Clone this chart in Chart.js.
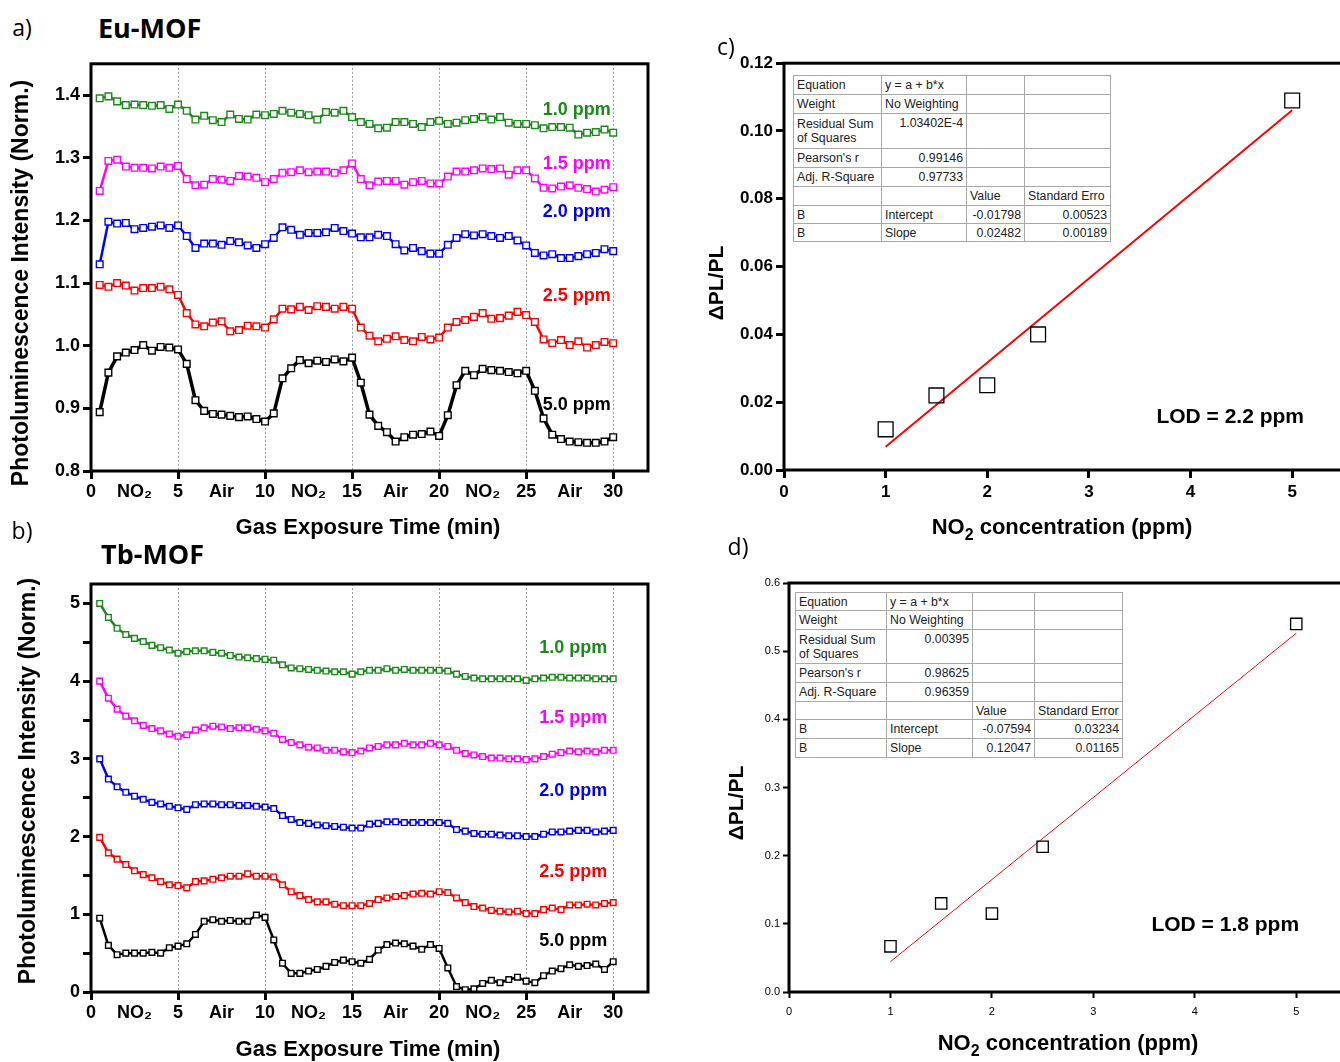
<!doctype html>
<html>
<head>
<meta charset="utf-8">
<script src="https://cdn.jsdelivr.net/npm/chart.js@4/dist/chart.umd.min.js"></script>
<style>
  html, body { margin: 0; padding: 0; background: #fff; overflow: hidden; }
  body { width: 1340px; height: 1062px; position: relative; font-family: "Liberation Sans", Arial, sans-serif; }
  canvas { position: absolute; }
  .t { position: absolute; white-space: nowrap; color: #000; transform: translate(-50%, -50%); }
  .lab { font-family: "Open Sans", sans-serif; font-size: 23px; }
  .mof { font-family: "Open Sans", sans-serif; font-weight: 700; font-size: 27px; transform: translate(0, -50%); }
  .ax { font-weight: 700; font-size: 22px; }
  .ay { font-weight: 700; font-size: 23px; transform: translate(-50%, -50%) rotate(-90deg); }
  .ay2 { font-weight: 700; font-size: 21px; transform: translate(-50%, -50%) rotate(-90deg); }
  .ax sub { font-size: 16px; vertical-align: -6px; line-height: 0; }
  table.fit { position: absolute; border-collapse: collapse; background: #fff; font-size: 12.3px; color: #222; table-layout: fixed; border: 1px solid #555; }
  table.fit td { border: 1px solid #a8a8a8; padding: 0 3px; vertical-align: middle; overflow: hidden; white-space: nowrap; line-height: 14px; }
  table.fit td.r { text-align: right; }
  table.fit td.top { vertical-align: top; padding-top: 2px; }
</style>
</head>
<body>
  <canvas id="ca" width="660" height="500" style="left:0;top:50px"></canvas>
  <canvas id="cb" width="660" height="492" style="left:0;top:570px"></canvas>
  <canvas id="cc" width="680" height="500" style="left:680px;top:50px"></canvas>
  <canvas id="cd" width="680" height="492" style="left:680px;top:570px"></canvas>

  <div class="t lab" style="left:22px;top:27px">a)</div>
  <div class="t mof" style="left:98px;top:27px">Eu-MOF</div>
  <div class="t lab" style="left:22px;top:530px">b)</div>
  <div class="t mof" style="left:101px;top:553px">Tb-MOF</div>
  <div class="t lab" style="left:726px;top:46px">c)</div>
  <div class="t lab" style="left:738px;top:546px">d)</div>

  <div class="t ay" style="left:20px;top:283px">Photoluminescence Intensity (Norm.)</div>
  <div class="t ax" style="left:368px;top:527px">Gas Exposure Time (min)</div>
  <div class="t ay" style="left:27px;top:781px">Photoluminescence Intensity (Norm.)</div>
  <div class="t ax" style="left:368px;top:1049px">Gas Exposure Time (min)</div>
  <div class="t ay2" style="left:716px;top:283px">ΔPL/PL</div>
  <div class="t ax" style="left:1062px;top:527px">NO<sub>2</sub> concentration (ppm)</div>
  <div class="t ay2" style="left:736px;top:803px">ΔPL/PL</div>
  <div class="t ax" style="left:1068px;top:1043px">NO<sub>2</sub> concentration (ppm)</div>

<script>
// time axis (min)
const timeMin = [0.5,1,1.5,2,2.5,3,3.5,4,4.5,5,5.5,6,6.5,7,7.5,8,8.5,9,9.5,10,
  10.5,11,11.5,12,12.5,13,13.5,14,14.5,15,15.5,16,16.5,17,17.5,18,18.5,19,19.5,20,
  20.5,21,21.5,22,22.5,23,23.5,24,24.5,25,25.5,26,26.5,27,27.5,28,28.5,29,29.5,30];
const xTickVals = [0,2.5,5,7.5,10,12.5,15,17.5,20,22.5,25,27.5,30];
const xTickText = ['0','NO₂','5','Air','10','NO₂','15','Air','20','NO₂','25','Air','30'];
const concLabels = ['1.0 ppm','1.5 ppm','2.0 ppm','2.5 ppm','5.0 ppm'];

// a) Eu-MOF, normalised PL
const eu10 = [1.395,1.398,1.39,1.384,1.385,1.384,1.383,1.384,1.378,1.385,
  1.375,1.361,1.367,1.36,1.357,1.369,1.362,1.361,1.369,1.368,
  1.37,1.375,1.372,1.37,1.368,1.361,1.373,1.372,1.375,1.365,
  1.357,1.354,1.347,1.348,1.357,1.357,1.354,1.349,1.357,1.359,
  1.354,1.356,1.36,1.362,1.365,1.361,1.365,1.356,1.354,1.354,
  1.352,1.347,1.349,1.349,1.348,1.337,1.34,1.341,1.345,1.34];
const eu15 = [1.247,1.295,1.297,1.286,1.284,1.284,1.283,1.286,1.284,1.287,
  1.266,1.256,1.257,1.266,1.265,1.263,1.271,1.27,1.268,1.261,
  1.266,1.276,1.277,1.28,1.277,1.278,1.278,1.276,1.28,1.291,
  1.266,1.256,1.262,1.263,1.263,1.257,1.261,1.263,1.259,1.259,
  1.27,1.278,1.278,1.28,1.283,1.282,1.283,1.273,1.28,1.28,
  1.267,1.252,1.251,1.254,1.256,1.252,1.25,1.246,1.249,1.253];
const eu20 = [1.13,1.198,1.195,1.196,1.186,1.188,1.19,1.192,1.188,1.192,
  1.175,1.156,1.163,1.163,1.161,1.167,1.165,1.16,1.156,1.162,
  1.172,1.189,1.185,1.177,1.18,1.18,1.181,1.188,1.183,1.179,
  1.173,1.173,1.177,1.175,1.162,1.152,1.156,1.151,1.147,1.147,
  1.161,1.172,1.178,1.176,1.178,1.175,1.172,1.175,1.168,1.16,
  1.148,1.144,1.146,1.14,1.14,1.143,1.146,1.148,1.154,1.151];
const eu25 = [1.097,1.094,1.1,1.096,1.088,1.092,1.092,1.094,1.09,1.081,
  1.052,1.034,1.031,1.037,1.039,1.023,1.025,1.032,1.031,1.029,
  1.042,1.059,1.058,1.062,1.057,1.063,1.062,1.059,1.062,1.059,
  1.029,1.016,1.007,1.011,1.015,1.009,1.007,1.014,1.01,1.013,
  1.029,1.038,1.041,1.046,1.052,1.043,1.044,1.048,1.054,1.049,
  1.038,1.01,1.004,1.009,1.001,1.007,0.997,1.001,1.006,1.004];
const eu50 = [0.894,0.957,0.983,0.989,0.993,1.001,0.992,0.998,0.997,0.994,
  0.971,0.913,0.896,0.891,0.89,0.888,0.886,0.887,0.883,0.879,
  0.892,0.948,0.964,0.977,0.972,0.976,0.974,0.978,0.975,0.981,
  0.941,0.89,0.872,0.862,0.847,0.854,0.858,0.859,0.863,0.856,
  0.889,0.937,0.96,0.953,0.963,0.961,0.96,0.958,0.956,0.96,
  0.928,0.884,0.858,0.851,0.847,0.846,0.845,0.845,0.847,0.854];

// b) Tb-MOF, normalised PL (offset curves)
const tb10 = [5.0,4.82,4.68,4.60,4.55,4.51,4.46,4.43,4.40,4.36,
  4.38,4.39,4.39,4.37,4.36,4.33,4.31,4.30,4.29,4.28,
  4.27,4.21,4.17,4.16,4.15,4.14,4.13,4.12,4.12,4.09,
  4.12,4.14,4.14,4.16,4.14,4.15,4.14,4.14,4.14,4.14,
  4.13,4.09,4.06,4.04,4.03,4.03,4.03,4.03,4.03,4.01,
  4.03,4.04,4.05,4.05,4.04,4.04,4.04,4.03,4.03,4.03];
const tb15 = [4.0,3.78,3.64,3.55,3.49,3.43,3.39,3.36,3.32,3.29,
  3.31,3.37,3.40,3.42,3.41,3.39,3.40,3.40,3.38,3.36,
  3.33,3.25,3.21,3.18,3.15,3.14,3.11,3.11,3.09,3.08,
  3.10,3.14,3.16,3.18,3.18,3.20,3.18,3.18,3.20,3.18,
  3.16,3.11,3.07,3.05,3.03,3.01,3.01,3.00,3.00,2.99,
  3.00,3.03,3.06,3.08,3.10,3.09,3.10,3.09,3.11,3.11];
const tb20 = [3.00,2.74,2.64,2.57,2.52,2.48,2.44,2.42,2.39,2.37,
  2.35,2.41,2.42,2.42,2.41,2.41,2.40,2.40,2.39,2.38,
  2.36,2.27,2.22,2.18,2.17,2.15,2.14,2.13,2.12,2.11,
  2.11,2.16,2.17,2.19,2.19,2.18,2.18,2.18,2.18,2.18,
  2.17,2.09,2.07,2.04,2.03,2.03,2.02,2.01,2.01,2.00,
  2.00,2.03,2.06,2.06,2.07,2.08,2.08,2.06,2.07,2.08];
const tb25 = [1.99,1.79,1.71,1.64,1.56,1.51,1.47,1.42,1.38,1.37,
  1.34,1.42,1.43,1.45,1.47,1.49,1.49,1.52,1.49,1.49,
  1.48,1.38,1.29,1.24,1.19,1.16,1.16,1.13,1.11,1.11,
  1.11,1.14,1.19,1.21,1.23,1.24,1.26,1.27,1.26,1.29,
  1.28,1.21,1.15,1.10,1.08,1.05,1.04,1.03,1.04,1.01,
  1.01,1.06,1.08,1.06,1.12,1.12,1.13,1.12,1.14,1.15];
const tb50 = [0.95,0.60,0.48,0.50,0.50,0.50,0.51,0.50,0.57,0.59,
  0.62,0.74,0.91,0.93,0.91,0.92,0.91,0.91,0.99,0.96,
  0.67,0.37,0.24,0.24,0.27,0.29,0.33,0.38,0.41,0.39,
  0.37,0.42,0.54,0.61,0.63,0.62,0.59,0.55,0.61,0.56,
  0.31,0.07,0.03,0.04,0.11,0.15,0.12,0.16,0.19,0.14,
  0.12,0.21,0.27,0.30,0.35,0.33,0.34,0.36,0.29,0.39];

// c), d) response vs concentration + linear fits
const concPpm = [1, 1.5, 2, 2.5, 5];
const euDeltaPL = [0.012, 0.022, 0.025, 0.040, 0.109];
const tbDeltaPL = [0.067, 0.130, 0.115, 0.213, 0.540];
const euFitAB = [-0.01798, 0.02482];
const euFitErr = [0.00523, 0.00189];
const euFitStats = ['1.03402E-4', '0.99146', '0.97733'];
const tbFitAB = [-0.07594, 0.12047];
const tbFitErr = [0.03234, 0.01165];
const tbFitStats = ['0.00395', '0.98625', '0.96359'];

const colors = ['#1b8a1b', '#ff00ff', '#0000ff', '#ff0000', '#000000'];

Chart.defaults.font.family = '"Liberation Sans", Arial, sans-serif';
Chart.defaults.color = '#000';

const frame = {
  id: 'frame',
  afterDatasetsDraw(chart, args, opts) {
    const { ctx, chartArea: a } = chart;
    ctx.save();
    ctx.lineWidth = opts.width || 3;
    ctx.strokeStyle = '#000';
    ctx.strokeRect(a.left, a.top, a.right - a.left, a.bottom - a.top);
    ctx.restore();
  }
};

const notes = {
  id: 'notes',
  afterDatasetsDraw(chart, args, opts) {
    const { ctx, scales } = chart;
    (opts.items || []).forEach(n => {
      ctx.save();
      ctx.font = opts.font;
      ctx.fillStyle = n.color || '#000';
      ctx.textAlign = 'center';
      ctx.textBaseline = 'middle';
      ctx.fillText(n.text, scales.x.getPixelForValue(n.x), scales.y.getPixelForValue(n.y));
      ctx.restore();
    });
  }
};

function timeAxis(h) {
  return {
    type: 'linear', min: 0, max: 32,
    afterBuildTicks: s => { s.ticks = xTickVals.map(v => ({ value: v })); },
    afterFit: s => { s.height = h; },
    ticks: { autoSkip: false, maxRotation: 0, padding: 2, font: { size: 18, weight: 'bold' },
      callback: (v, i) => xTickText[i] },
    grid: {
      color: c => (c.tick && c.tick.value % 5 === 0 && c.tick.value > 0) ? '#9a9a9a' : 'rgba(0,0,0,0)',
      tickColor: c => (c.tick && c.tick.value % 5 === 0) ? '#000' : 'rgba(0,0,0,0)',
      lineWidth: 1, tickWidth: 3, tickLength: 8, tickBorderDash: []
    },
    border: { display: false, dash: [2, 2] }
  };
}

function lineSets(series, r, widths) {
  return series.map((vals, i) => ({
    label: concLabels[i],
    data: vals.map((v, k) => ({ x: timeMin[k], y: v })),
    borderColor: colors[i],
    borderWidth: widths[i],
    pointStyle: 'rect',
    pointRadius: r,
    pointBorderWidth: 1.4,
    pointBorderColor: colors[i],
    pointBackgroundColor: '#fff',
    tension: 0
  }));
}

// a)
new Chart(document.getElementById('ca'), {
  type: 'line',
  data: { datasets: lineSets([eu10, eu15, eu20, eu25, eu50], 4.7, [2.5, 2.5, 2.5, 2.5, 3.5]) },
  options: {
    responsive: false, animation: false, devicePixelRatio: 1,
    layout: { padding: { top: 12, right: 12, left: 0, bottom: 0 } },
    plugins: {
      legend: { display: false }, tooltip: { enabled: false },
      frame: { width: 3 },
      notes: { font: 'bold 18px "Liberation Sans", Arial, sans-serif', items: [
        { text: concLabels[0], x: 27.9, y: 1.376, color: colors[0] },
        { text: concLabels[1], x: 27.9, y: 1.290, color: colors[1] },
        { text: concLabels[2], x: 27.9, y: 1.214, color: colors[2] },
        { text: concLabels[3], x: 27.9, y: 1.079, color: colors[3] },
        { text: concLabels[4], x: 27.9, y: 0.905, color: colors[4] }
      ] }
    },
    scales: {
      x: timeAxis(79),
      y: {
        min: 0.8, max: 1.45,
        afterFit: s => { s.width = 91; },
        ticks: { stepSize: 0.1, includeBounds: false, padding: 3, font: { size: 18, weight: 'bold' },
          callback: v => v.toFixed(1) },
        grid: { drawOnChartArea: false, tickColor: '#000', tickWidth: 3, tickLength: 8 },
        border: { display: false }
      }
    }
  },
  plugins: [frame, notes]
});

// b)
new Chart(document.getElementById('cb'), {
  type: 'line',
  data: { datasets: lineSets([tb10, tb15, tb20, tb25, tb50], 4, [2.5, 2.5, 2.5, 2.5, 2.5]) },
  options: {
    responsive: false, animation: false, devicePixelRatio: 1,
    layout: { padding: { top: 14, right: 12, left: 0, bottom: 0 } },
    plugins: {
      legend: { display: false }, tooltip: { enabled: false },
      frame: { width: 3 },
      notes: { font: 'bold 18px "Liberation Sans", Arial, sans-serif', items: [
        { text: concLabels[0], x: 27.7, y: 4.42, color: colors[0] },
        { text: concLabels[1], x: 27.7, y: 3.53, color: colors[1] },
        { text: concLabels[2], x: 27.7, y: 2.58, color: colors[2] },
        { text: concLabels[3], x: 27.7, y: 1.54, color: colors[3] },
        { text: concLabels[4], x: 27.7, y: 0.66, color: colors[4] }
      ] }
    },
    scales: {
      x: timeAxis(70),
      y: {
        min: 0, max: 5.25,
        afterFit: s => { s.width = 91; },
        ticks: { stepSize: 0.5, includeBounds: false, autoSkip: false, padding: 3, font: { size: 18, weight: 'bold' },
          callback: v => (v % 1 === 0 ? String(v) : '') },
        grid: { drawOnChartArea: false, tickColor: '#000', tickWidth: 3, tickLength: 8 },
        border: { display: false }
      }
    }
  },
  plugins: [frame, notes]
});

function fitChart(id, vals, ab, opt) {
  const x0 = Math.min(...concPpm), x1 = Math.max(...concPpm);
  return new Chart(document.getElementById(id), {
    type: 'scatter',
    data: {
      datasets: [
        {
          data: concPpm.map((c, i) => ({ x: c, y: vals[i] })),
          pointStyle: 'rect', pointRadius: opt.r, pointBorderWidth: 1.3,
          pointBorderColor: '#000', pointBackgroundColor: 'rgba(0,0,0,0)'
        },
        {
          data: [{ x: x0, y: ab[0] + ab[1] * x0 }, { x: x1, y: ab[0] + ab[1] * x1 }],
          showLine: true, borderColor: '#ff0000', borderWidth: opt.lw, pointRadius: 0
        }
      ]
    },
    options: {
      responsive: false, animation: false, devicePixelRatio: 1,
      layout: { padding: { top: opt.top, right: opt.right, left: 0, bottom: 0 } },
      plugins: {
        legend: { display: false }, tooltip: { enabled: false },
        frame: { width: 3 },
        notes: { font: 'bold 21px "Liberation Sans", Arial, sans-serif', items: [opt.lod] }
      },
      scales: {
        x: {
          type: 'linear', min: 0, max: 5.5,
          afterFit: s => { s.height = opt.xh; },
          ticks: { stepSize: 1, includeBounds: false, padding: opt.pad, maxRotation: 0,
            font: { size: opt.fs, weight: opt.fw } },
          grid: { drawOnChartArea: false, tickColor: '#000', tickWidth: opt.tw, tickLength: opt.tl },
          border: { display: false }
        },
        y: {
          min: 0, max: opt.ymax,
          afterFit: s => { s.width = opt.yw; },
          ticks: { stepSize: opt.step, includeBounds: false, padding: 3,
            font: { size: opt.fs, weight: opt.fw }, callback: v => v.toFixed(opt.dec) },
          grid: { drawOnChartArea: false, tickColor: '#000', tickWidth: opt.tw, tickLength: opt.tl },
          border: { display: false }
        }
      }
    },
    plugins: [frame, notes]
  });
}

// c)
fitChart('cc', euDeltaPL, euFitAB, {
  r: 10.5, lw: 2, top: 12, right: 17, xh: 80, yw: 104, ymax: 0.12, step: 0.02, dec: 2,
  fs: 17, fw: 'bold', tw: 3, tl: 8, pad: 4,
  lod: { text: 'LOD = 2.2 ppm', x: 4.39, y: 0.0156 }
});

// d)
fitChart('cd', tbDeltaPL, tbFitAB, {
  r: 8, lw: 1, top: 13, right: 13, xh: 70, yw: 109, ymax: 0.6, step: 0.1, dec: 1,
  fs: 11, fw: 'normal', tw: 2, tl: 6, pad: 7,
  lod: { text: 'LOD = 1.8 ppm', x: 4.3, y: 0.098 }
});

// fit result tables
function fitTable(left, top, widths, heights, stats, ab, err, errHead) {
  const rows = [
    [['Equation'], ['y = a + b*x'], [''], ['']],
    [['Weight'], ['No Weighting'], [''], ['']],
    [['Residual Sum<br>of Squares'], [stats[0], 'r top'], [''], ['']],
    [["Pearson's r"], [stats[1], 'r'], [''], ['']],
    [['Adj. R-Square'], [stats[2], 'r'], [''], ['']],
    [[''], [''], ['Value'], [errHead]],
    [['B'], ['Intercept'], [ab[0].toFixed(5), 'r'], [err[0].toFixed(5), 'r']],
    [['B'], ['Slope'], [ab[1].toFixed(5), 'r'], [err[1].toFixed(5), 'r']]
  ];
  const t = document.createElement('table');
  t.className = 'fit';
  t.style.left = left + 'px';
  t.style.top = top + 'px';
  t.style.width = widths.reduce((s, w) => s + w, 0) + 'px';
  const cg = document.createElement('colgroup');
  widths.forEach(w => { const c = document.createElement('col'); c.style.width = w + 'px'; cg.appendChild(c); });
  t.appendChild(cg);
  rows.forEach((row, i) => {
    const tr = document.createElement('tr');
    tr.style.height = heights[i] + 'px';
    row.forEach(cell => {
      const td = document.createElement('td');
      td.innerHTML = cell[0];
      if (cell[1]) td.className = cell[1];
      tr.appendChild(td);
    });
    t.appendChild(tr);
  });
  document.body.appendChild(t);
}

fitTable(793, 75, [88, 85, 58, 86], [19, 19, 35, 19, 19, 19, 18, 18], euFitStats, euFitAB, euFitErr, 'Standard Erro');
fitTable(795, 592, [91, 86, 62, 88], [18, 19, 34, 19, 19, 18, 19, 19], tbFitStats, tbFitAB, tbFitErr, 'Standard Error');
</script>
</body>
</html>
